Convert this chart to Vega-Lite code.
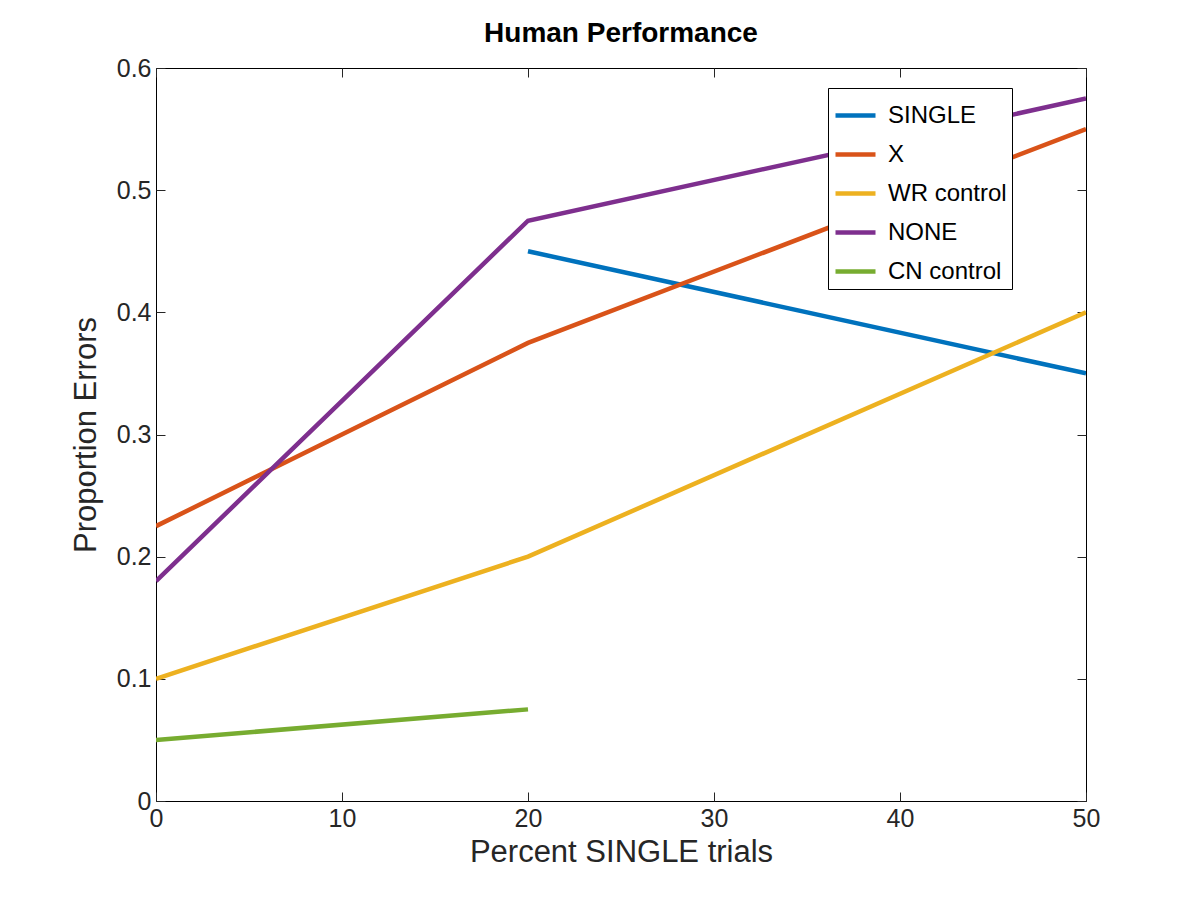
{
"$schema":"https://vega.github.io/schema/vega-lite/v6.json",
"width":930,"height":733,
"autosize":{"type":"none"},
"padding":{"left":156,"top":68,"right":114,"bottom":99},
"background":"white",
"title":{"text":"Human Performance","font":"Liberation Sans","fontSize":28,"fontWeight":"bold","color":"black","offset":8},
"config":{"view":{"stroke":"black","strokeWidth":1},"font":"Liberation Sans"},
"data":{"values":[
{"s":"SINGLE","x":20,"y":0.45},{"s":"SINGLE","x":50,"y":0.35},
{"s":"X","x":0,"y":0.225},{"s":"X","x":20,"y":0.375},{"s":"X","x":50,"y":0.55},
{"s":"WR control","x":0,"y":0.1},{"s":"WR control","x":20,"y":0.2},{"s":"WR control","x":50,"y":0.4},
{"s":"NONE","x":0,"y":0.18},{"s":"NONE","x":20,"y":0.475},{"s":"NONE","x":50,"y":0.575},
{"s":"CN control","x":0,"y":0.05},{"s":"CN control","x":20,"y":0.075}
]},
"layer":[
{"mark":{"type":"line","strokeWidth":4.5,"clip":true},
"encoding":{
"x":{"field":"x","type":"quantitative","scale":{"domain":[0,50],"nice":false},
"axis":{"values":[0,10,20,30,40,50],"title":"Percent SINGLE trials","titleFontSize":31,"titleFontWeight":"normal","titleColor":"#262626","labelFontSize":25,"labelColor":"#262626","labelFlush":false,"tickSize":-9,"tickColor":"#262626","domain":false,"grid":false,"labelPadding":14,"titlePadding":6}},
"y":{"field":"y","type":"quantitative","scale":{"domain":[0,0.6],"nice":false},
"axis":{"values":[0,0.1,0.2,0.3,0.4,0.5,0.6],"labelExpr":"datum.value == 0 ? '0' : format(datum.value, '.1f')","labelFlush":false,"title":"Proportion Errors","titleFontSize":31,"titleFontWeight":"normal","titleColor":"#262626","labelFontSize":25,"labelColor":"#262626","tickSize":-9,"tickColor":"#262626","domain":false,"grid":false,"labelPadding":14,"titlePadding":14}},
"color":{"field":"s","type":"nominal","sort":["SINGLE","X","WR control","NONE","CN control"],
"scale":{"domain":["SINGLE","X","WR control","NONE","CN control"],"range":["#0072BD","#D95319","#EDB120","#7E2F8E","#77AC30"]},
"legend":{"title":null,"orient":"none","legendX":672,"legendY":20,"symbolType":"stroke","symbolStrokeWidth":4.5,"symbolSize":1600,"labelFontSize":24,"labelColor":"black","strokeColor":"black","fillColor":"white","padding":5,"rowPadding":4,"labelOffset":10,"labelLimit":300}}
}},
{"mark":{"type":"rule","opacity":0},"encoding":{
"x":{"datum":0,"type":"quantitative","scale":{"domain":[0,50],"nice":false},"axis":{"orient":"top","values":[0,10,20,30,40,50],"labels":false,"title":null,"tickSize":-9,"tickColor":"#262626","domain":false,"grid":false}},
"y":{"datum":0,"type":"quantitative","scale":{"domain":[0,0.6],"nice":false},"axis":{"orient":"right","values":[0,0.1,0.2,0.3,0.4,0.5,0.6],"labels":false,"title":null,"tickSize":-9,"tickColor":"#262626","domain":false,"grid":false}}
}}
],
"resolve":{"axis":{"x":"independent","y":"independent"}}
}
